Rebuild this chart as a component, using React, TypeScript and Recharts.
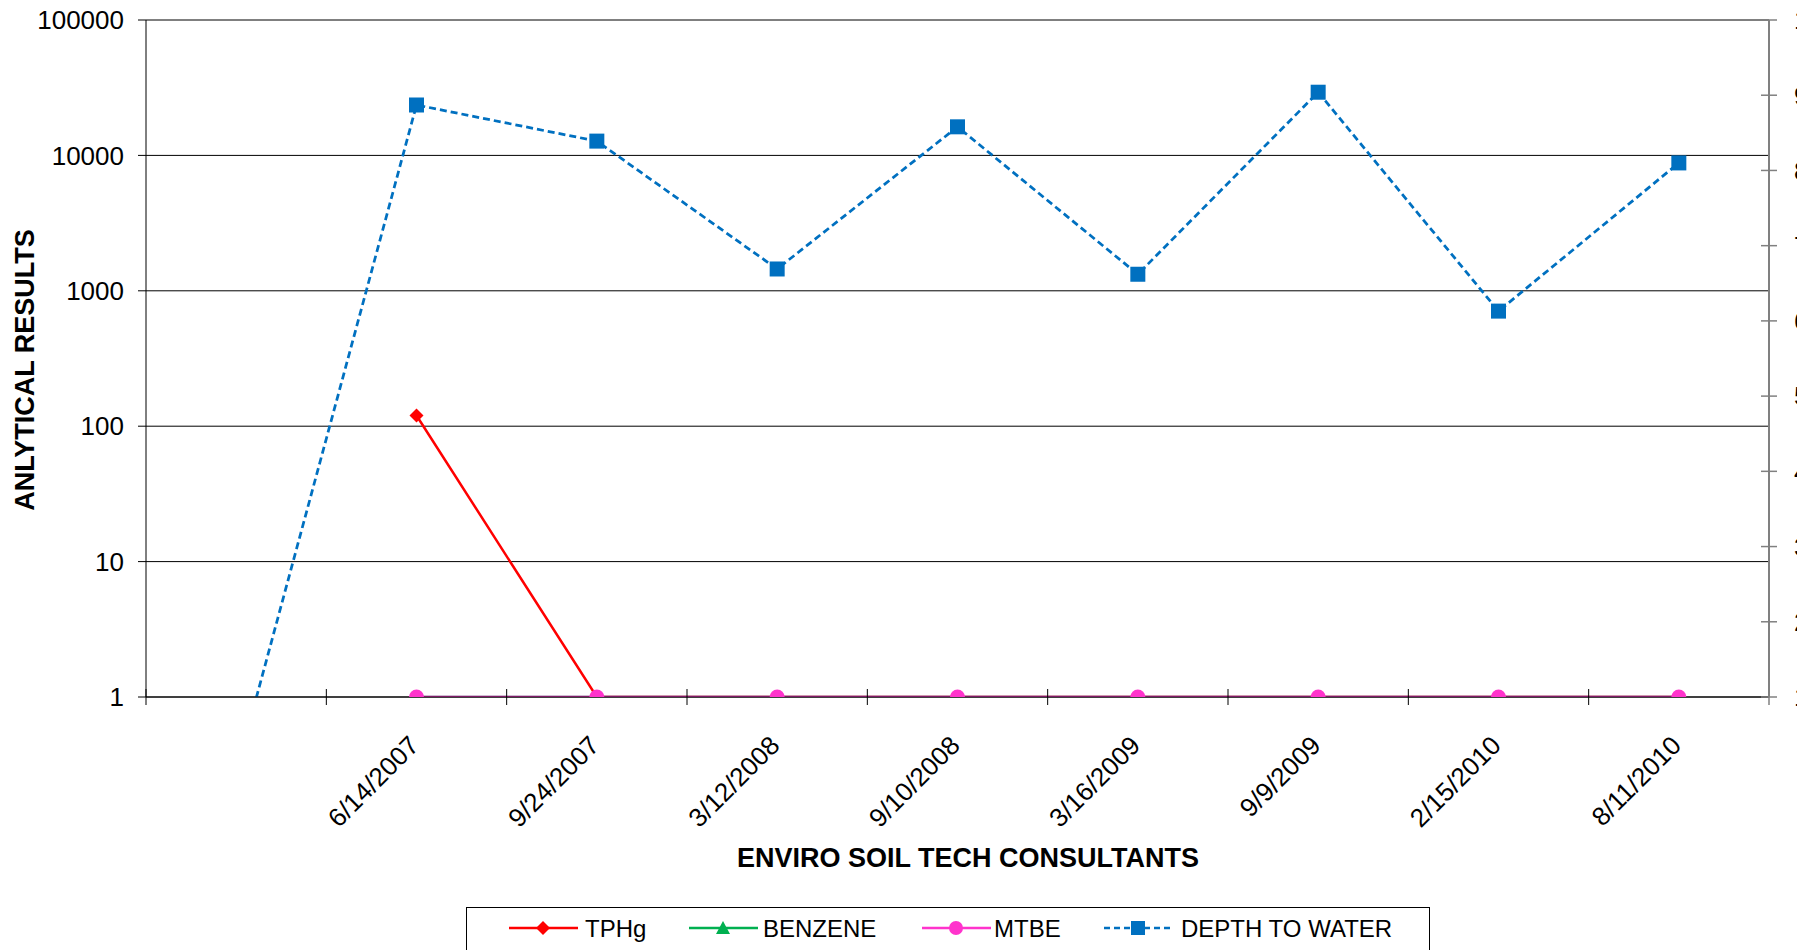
import React from "react";
import { LineChart, Line, XAxis, YAxis, CartesianGrid, Legend } from "recharts";

// sample dates (first slot is the blank starting category)
const categories = ["", "6/14/2007", "9/24/2007", "3/12/2008", "9/10/2008", "3/16/2009", "9/9/2009", "2/15/2010", "8/11/2010"];
const tphg = [null, 120, 1, 1, 1, 1, 1, 1, 1];
const benzene = [null, 1, 1, 1, 1, 1, 1, 1, 1];
const mtbe = [null, 1, 1, 1, 1, 1, 1, 1, 1];
const depthToWater = [0, 8.87, 8.39, 6.69, 8.58, 6.62, 9.04, 6.13, 8.1];
const leftTicks = [1, 10, 100, 1000, 10000, 100000];
const rightTicks = [1, 2, 3, 4, 5, 6, 7, 8, 9, 10];

const W = 1807;
const H = 950;
const LEFT_W = 146;
const RIGHT_W = 38;
const XAXIS_H = 253;
const FONT = '"Liberation Sans", Arial, sans-serif';
const BAND = (W - LEFT_W - RIGHT_W) / categories.length;

const data = categories.map((label, i) => ({
  label,
  tphg: tphg[i],
  benzene: benzene[i],
  mtbe: mtbe[i],
  depth: depthToWater[i],
}));

const empty = (p: any) => p.cx == null || p.cy == null || p.value == null;

const DiamondDot = (p: any) => {
  if (empty(p)) return <g key={`tp-${p.index}`} />;
  const { cx, cy } = p;
  const r = 7;
  return <path key={`tp-${p.index}`} d={`M${cx},${cy - r}L${cx + r},${cy}L${cx},${cy + r}L${cx - r},${cy}Z`} fill="#FF0000" />;
};

const TriangleDot = (p: any) => {
  if (empty(p)) return <g key={`bz-${p.index}`} />;
  const { cx, cy } = p;
  return <path key={`bz-${p.index}`} d={`M${cx},${cy - 7}L${cx + 7},${cy + 8}L${cx - 7},${cy + 8}Z`} fill="#00B050" />;
};

const CircleDot = (p: any) => {
  if (empty(p)) return <g key={`mt-${p.index}`} />;
  return <circle key={`mt-${p.index}`} cx={p.cx} cy={p.cy} r={7.5} fill="#FF33CC" />;
};

const SquareDot = (p: any) => {
  if (empty(p)) return <g key={`dw-${p.index}`} />;
  return <rect key={`dw-${p.index}`} x={p.cx - 7.5} y={p.cy - 7.5} width={15} height={15} fill="#0070C0" />;
};

const XTick = (props: any) => {
  const { x, y, payload, index } = props;
  const tx = x + 4;
  const ty = y + 50;
  return (
    <g>
      <line x1={x - BAND / 2} x2={x - BAND / 2} y1={y - 8} y2={y + 8} stroke="#000" strokeWidth={1} />
      {index === categories.length - 1 && (
        <line x1={x + BAND / 2} x2={x + BAND / 2} y1={y - 8} y2={y + 8} stroke="#808080" strokeWidth={1.5} />
      )}
      {payload.value !== "" && (
        <text x={tx} y={ty} textAnchor="end" transform={`rotate(-45 ${tx} ${ty})`} fontSize={26} fill="#000" fontFamily={FONT}>
          {payload.value}
        </text>
      )}
    </g>
  );
};

const RightTick = (props: any) => {
  const { x, y, payload } = props;
  return (
    <g>
      <line x1={x - 8} x2={x + 8} y1={y} y2={y} stroke="#808080" strokeWidth={1.5} />
      <text x={x + 25} y={y} dy="0.36em" textAnchor="start" fontSize={26} fill="#000" fontFamily={FONT}>
        {payload.value}
      </text>
    </g>
  );
};

const legendItems = [
  { name: "TPHg", color: "#FF0000", shape: "diamond", dash: undefined, lineX: 42, textX: 118 },
  { name: "BENZENE", color: "#00B050", shape: "triangle", dash: undefined, lineX: 222, textX: 296 },
  { name: "MTBE", color: "#FF33CC", shape: "circle", dash: undefined, lineX: 455, textX: 527 },
  { name: "DEPTH TO WATER", color: "#0070C0", shape: "square", dash: "6 4", lineX: 637, textX: 714 },
];

const renderLegend = () => (
  <div style={{ width: 964, height: 50, border: "1.5px solid #000", boxSizing: "border-box", background: "#fff" }}>
    <svg width={961} height={46}>
      {legendItems.map((it) => {
        const cy = 20;
        const mx = it.lineX + 34;
        let marker: React.ReactNode = null;
        if (it.shape === "diamond") marker = <path d={`M${mx},${cy - 7}L${mx + 7},${cy}L${mx},${cy + 7}L${mx - 7},${cy}Z`} fill={it.color} />;
        if (it.shape === "triangle") marker = <path d={`M${mx},${cy - 7}L${mx + 7},${cy + 6}L${mx - 7},${cy + 6}Z`} fill={it.color} />;
        if (it.shape === "circle") marker = <circle cx={mx} cy={cy} r={7} fill={it.color} />;
        if (it.shape === "square") marker = <rect x={mx - 7} y={cy - 7} width={14} height={14} fill={it.color} />;
        return (
          <g key={it.name}>
            <line x1={it.lineX} x2={it.lineX + 69} y1={cy} y2={cy} stroke={it.color} strokeWidth={2.5} strokeDasharray={it.dash} />
            {marker}
            <text x={it.textX} y={cy + 8.6} fontSize={24} fill="#000" fontFamily={FONT}>
              {it.name}
            </text>
          </g>
        );
      })}
    </svg>
  </div>
);

export default function App() {
  return (
    <div style={{ position: "absolute", left: 0, top: 0, width: 1797, height: H, overflow: "hidden", background: "#fff" }}>
      <LineChart width={W} height={H} data={data} margin={{ top: 20, right: 0, bottom: 0, left: 0 }} style={{ fontFamily: FONT }}>
        <CartesianGrid yAxisId="left" vertical={false} stroke="#000" strokeWidth={1} />
        <XAxis
          dataKey="label"
          scale="band"
          height={XAXIS_H}
          interval={0}
          tickLine={false}
          tickSize={0}
          tickMargin={0}
          tick={<XTick />}
          axisLine={{ stroke: "#000", strokeWidth: 1.2 }}
        />
        <YAxis
          yAxisId="left"
          scale="log"
          type="number"
          domain={[1, 100000]}
          ticks={leftTicks}
          allowDataOverflow
          width={LEFT_W}
          tickSize={8}
          tickMargin={14}
          tickLine={{ stroke: "#000" }}
          axisLine={{ stroke: "#000" }}
          tick={{ fontSize: 26, fill: "#000", fontFamily: FONT }}
        />
        <YAxis
          yAxisId="right"
          orientation="right"
          type="number"
          domain={[1, 10]}
          ticks={rightTicks}
          allowDataOverflow
          width={RIGHT_W}
          tickSize={0}
          tickMargin={0}
          tickLine={false}
          tick={<RightTick />}
          axisLine={{ stroke: "#808080", strokeWidth: 2 }}
        />
        <Legend
          layout="horizontal"
          verticalAlign="middle"
          align="center"
          content={renderLegend}
          wrapperStyle={{ left: 466, top: 907, width: 964, height: 43, overflow: "hidden" }}
        />
        <Line yAxisId="left" dataKey="tphg" stroke="#FF0000" strokeWidth={2.5} dot={DiamondDot} activeDot={false} isAnimationActive={false} />
        <Line yAxisId="left" dataKey="benzene" stroke="#00B050" strokeWidth={2.5} dot={TriangleDot} activeDot={false} isAnimationActive={false} />
        <Line yAxisId="left" dataKey="mtbe" stroke="#FF33CC" strokeWidth={2.5} dot={CircleDot} activeDot={false} isAnimationActive={false} />
        <Line yAxisId="right" dataKey="depth" stroke="#0070C0" strokeWidth={2.75} strokeDasharray="7 4" dot={SquareDot} activeDot={false} isAnimationActive={false} />
        <text x={968} y={867} textAnchor="middle" fontSize={27} fontWeight="bold" fill="#000" fontFamily={FONT}>
          ENVIRO SOIL TECH CONSULTANTS
        </text>
        <text x={24} y={370} textAnchor="middle" dy="0.36em" transform="rotate(-90 24 370)" fontSize={27} fontWeight="bold" fill="#000" fontFamily={FONT}>
          ANLYTICAL RESULTS
        </text>
      </LineChart>
    </div>
  );
}
